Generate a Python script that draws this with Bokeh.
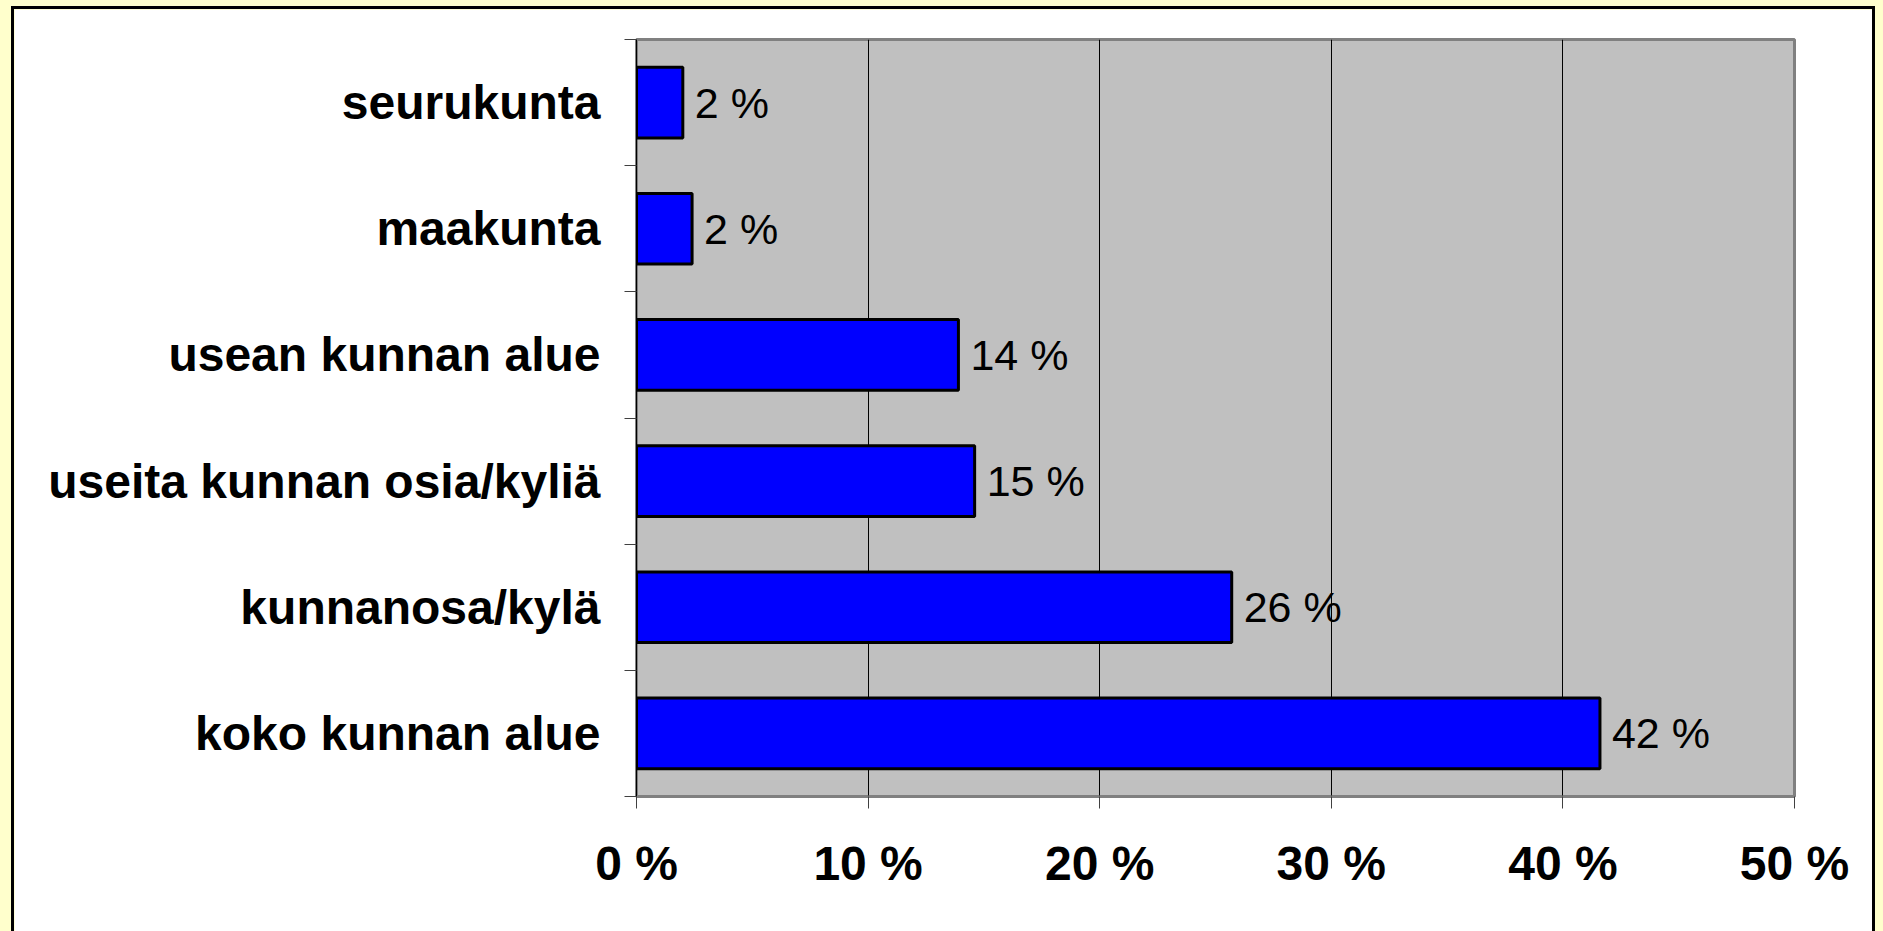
import numpy as np
from bokeh.plotting import figure
from bokeh.models import ColumnDataSource, FixedTicker, Range1d, LabelSet
from bokeh.core.properties import value
from bokeh.embed import file_html
from bokeh.resources import INLINE

# ---- data (bottom to top) ----
categories = ["koko kunnan alue", "kunnanosa/kylä", "useita kunnan osia/kyliä",
              "usean kunnan alue", "maakunta", "seurukunta"]
values = [41.6, 25.7, 14.6, 13.9, 2.4, 2.0]
value_labels = ["42 %", "26 %", "15 %", "14 %", "2 %", "2 %"]
x_ticks = [0, 10, 20, 30, 40, 50]
x_tick_labels = ["0 %", "10 %", "20 %", "30 %", "40 %", "50 %"]

n = len(categories)
ypos = np.arange(n) + 0.5
src = ColumnDataSource(dict(y=ypos, v=values, lab=value_labels, cat=categories))

W, H = 1864, 925
p = figure(width=W, height=H, output_backend="svg", toolbar_location=None,
           x_range=Range1d(0, 50), y_range=Range1d(0, n),
           min_border_left=622, min_border_right=84, min_border_top=30, min_border_bottom=138)

p.background_fill_color = "#C0C0C0"
p.border_fill_color = "#FFFFFF"
p.outline_line_color = "#808080"
p.outline_line_width = 3
p.styles = {"border-left": "3px solid black", "border-top": "3px solid black",
            "border-right": "3px solid black"}

p.hbar(y="y", right="v", left=0, height=0.56, source=src,
       fill_color="#0000FF", line_color="#000000", line_width=3)

labels = LabelSet(x="v", y="y", text="lab", source=src, x_offset=12,
                  text_baseline="middle", text_align="left",
                  text_font=value("Liberation Sans"), text_font_size="43px",
                  text_color="#000000")
p.add_layout(labels)

# x axis
p.xaxis.ticker = FixedTicker(ticks=x_ticks)
p.xaxis.major_label_overrides = {t: l for t, l in zip(x_ticks, x_tick_labels)}
p.xaxis.major_label_text_font = "Liberation Sans"
p.xaxis.major_label_text_font_style = "bold"
p.xaxis.major_label_text_font_size = "48px"
p.xaxis.major_label_text_color = "#000000"
p.xaxis.major_label_standoff = 28
p.xaxis.major_tick_out = 12
p.xaxis.major_tick_in = 0
p.xaxis.major_tick_line_color = "#404040"
p.xaxis.minor_tick_line_color = None
p.xaxis.axis_line_color = "#808080"
p.xaxis.axis_line_width = 2

# y axis: labels at centres, ticks at boundaries
p.yaxis.ticker = FixedTicker(ticks=list(ypos), minor_ticks=list(np.arange(n + 1)))
p.yaxis.major_label_overrides = {float(y): c for y, c in zip(ypos, categories)}
p.yaxis.major_label_text_font = "Liberation Sans"
p.yaxis.major_label_text_font_style = "bold"
p.yaxis.major_label_text_font_size = "48px"
p.yaxis.major_label_text_color = "#000000"
p.yaxis.major_label_standoff = 24
p.yaxis.major_tick_out = 0
p.yaxis.major_tick_in = 0
p.yaxis.minor_tick_out = 12
p.yaxis.minor_tick_in = 0
p.yaxis.minor_tick_line_color = "#404040"
p.yaxis.axis_line_color = "#000000"
p.yaxis.axis_line_width = 1

p.xgrid.grid_line_color = "#000000"
p.xgrid.grid_line_width = 1
p.ygrid.grid_line_color = None

html = file_html(p, INLINE)
page_style = ("<style>html, body { background-color: #FFFFCC !important; } "
              "body { padding: 6px 0 0 11px !important; margin: 0 !important; "
              "overflow: hidden !important; box-sizing: border-box; }</style>")
idx = html.rfind("</body>")
html = html[:idx] + page_style + html[idx:]
open("out.html", "w").write(html)
